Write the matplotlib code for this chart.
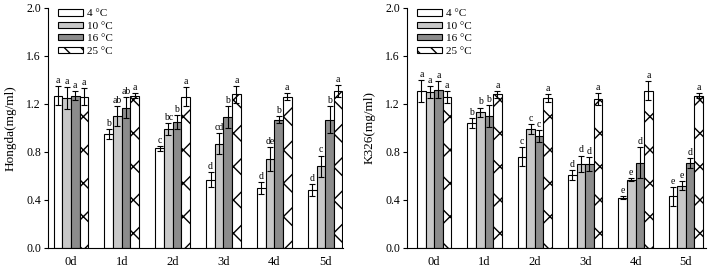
import matplotlib
matplotlib.use("Agg")
import matplotlib.pyplot as plt
from matplotlib.patches import Patch
import numpy as np

plt.rcParams['font.family'] = ['Liberation Serif', 'DejaVu Serif']
plt.rcParams['hatch.linewidth'] = 1.0

days = ["0d", "1d", "2d", "3d", "4d", "5d"]
temps = ["4 °C", "10 °C", "16 °C", "25 °C"]

# Hongda
hongda_4 = [1.27, 0.95, 0.83, 0.57, 0.50, 0.48]
hongda_10 = [1.25, 1.10, 0.99, 0.87, 0.74, 0.68]
hongda_16 = [1.27, 1.17, 1.05, 1.09, 1.07, 1.07]
hongda_25 = [1.26, 1.27, 1.26, 1.28, 1.26, 1.31]
hongda_err_4 = [0.08, 0.04, 0.02, 0.06, 0.05, 0.05]
hongda_err_10 = [0.09, 0.08, 0.05, 0.09, 0.10, 0.09]
hongda_err_16 = [0.04, 0.09, 0.06, 0.09, 0.03, 0.11]
hongda_err_25 = [0.07, 0.02, 0.08, 0.07, 0.03, 0.05]
hongda_let_4 = ["a", "b", "c", "d", "d", "d"]
hongda_let_10 = ["a", "ab", "bc", "cd", "de", "c"]
hongda_let_16 = ["a", "ab", "b", "b", "b", "b"]
hongda_let_25 = ["a", "a", "a", "a", "a", "a"]

# K326
k326_4 = [1.31, 1.04, 0.76, 0.61, 0.42, 0.43]
k326_10 = [1.30, 1.13, 0.99, 0.70, 0.57, 0.52]
k326_16 = [1.32, 1.10, 0.93, 0.70, 0.71, 0.71]
k326_25 = [1.26, 1.28, 1.25, 1.24, 1.31, 1.27]
k326_err_4 = [0.09, 0.04, 0.08, 0.04, 0.01, 0.08]
k326_err_10 = [0.05, 0.04, 0.04, 0.07, 0.01, 0.04]
k326_err_16 = [0.07, 0.09, 0.05, 0.06, 0.13, 0.04]
k326_err_25 = [0.05, 0.03, 0.03, 0.05, 0.08, 0.02]
k326_let_4 = ["a", "b", "c", "d", "e", "e"]
k326_let_10 = ["a", "b", "c", "d", "e", "e"]
k326_let_16 = ["a", "b", "c", "d", "d", "d"]
k326_let_25 = ["a", "a", "a", "a", "a", "a"]

colors = ["white", "#c8c8c8", "#8c8c8c", "white"]
hatches = [None, None, None, "x"]
legend_hatches = [None, None, None, "\\\\"]

fig = plt.figure(figsize=(7.08, 2.68), dpi=100)
ax1 = fig.add_axes([48/708, 20/268, 295/708, 240/268])
ax2 = fig.add_axes([407/708, 20/268, 299/708, 240/268])

def draw(ax, vals, errs, lets, ylabel, xlim):
    x = np.arange(len(days))
    w = 0.17
    for i in range(4):
        pos = x + (i - 1.5) * w
        ax.bar(pos, vals[i], w, color=colors[i], edgecolor="black",
               linewidth=0.8, hatch=hatches[i], zorder=2)
        ax.errorbar(pos, vals[i], yerr=errs[i], fmt="none", ecolor="black",
                    elinewidth=0.8, capsize=2, capthick=0.8, zorder=3)
        for p, v, e, l in zip(pos, vals[i], errs[i], lets[i]):
            ax.text(p, v + e + 0.01, l, ha="center", va="bottom", fontsize=7)
    ax.set_xlim(*xlim)
    ax.set_ylim(0, 2.0)
    ax.set_yticks([0.0, 0.4, 0.8, 1.2, 1.6, 2.0])
    ax.set_yticklabels(["0.0", "0.4", "0.8", "1.2", "1.6", "2.0"])
    ax.set_xticks(x)
    ax.set_xticklabels(days)
    ax.tick_params(axis="x", length=0, labelsize=9, pad=6)
    ax.tick_params(axis="y", direction="out", length=3, width=0.8,
                   labelsize=8.5, pad=2)
    ax.spines["top"].set_visible(False)
    ax.spines["right"].set_visible(False)
    ax.spines["left"].set_linewidth(0.8)
    ax.spines["bottom"].set_linewidth(0.8)
    ax.set_ylabel(ylabel, fontsize=9.5, labelpad=7)
    handles = [Patch(facecolor=colors[i], edgecolor="black", linewidth=0.8,
                     hatch=legend_hatches[i], label=temps[i]) for i in range(4)]
    ax.legend(handles=handles, loc="upper left", frameon=False, fontsize=8,
              handlelength=2.3, handleheight=0.5, labelspacing=0.3,
              handletextpad=0.3, borderaxespad=0.0, borderpad=0.0,
              bbox_to_anchor=(0.033, 0.995))

draw(ax1, [hongda_4, hongda_10, hongda_16, hongda_25],
     [hongda_err_4, hongda_err_10, hongda_err_16, hongda_err_25],
     [hongda_let_4, hongda_let_10, hongda_let_16, hongda_let_25],
     "Hongda(mg/ml)", (-0.45, 5.35))
draw(ax2, [k326_4, k326_10, k326_16, k326_25],
     [k326_err_4, k326_err_10, k326_err_16, k326_err_25],
     [k326_let_4, k326_let_10, k326_let_16, k326_let_25],
     "K326(mg/ml)", (-0.54, 5.4))

fig.savefig("out.png", dpi=100)
